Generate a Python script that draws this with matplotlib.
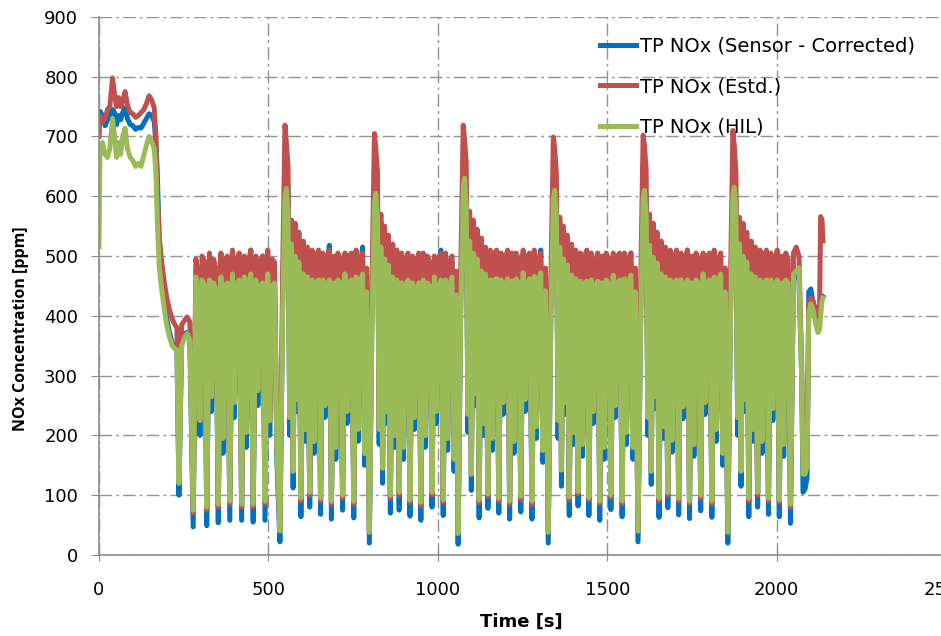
import matplotlib
matplotlib.use("Agg")
import matplotlib.pyplot as plt

plt.rcParams['font.family'] = ['DejaVu Sans']

# time axis [s]
time_s = [
    # warm start plateau and decline
    0, 3, 10, 18, 25, 32, 40, 46, 52, 58, 64, 70, 77, 84, 92, 100, 108, 116, 124, 132,
    140, 148, 156, 163, 168, 172, 178, 185, 193, 200, 208, 216, 224, 230,
    # oscillations before first spike
    236, 244, 252, 260, 268, 278, 286, 292, 298, 304, 312, 318, 326, 332, 338, 345, 352, 360, 366, 372,
    379, 386, 394, 400, 407, 414, 421, 429, 435, 441, 448, 455, 463, 469, 476, 483, 490, 498, 504, 511,
    518, 525,
    # cycle 1
    534, 542, 549, 553, 558, 563, 568, 573, 579, 585, 590, 596, 603, 609, 615, 622, 629, 635, 641, 648,
    654, 661, 667, 673, 680, 686, 693, 699, 705, 712, 719, 726, 732, 738, 745, 752, 759, 765, 771, 778,
    784, 790,
    # cycle 2
    798, 806, 813, 817, 822, 827, 832, 837, 843, 849, 854, 860, 867, 873, 879, 886, 893, 899, 905, 912,
    918, 925, 931, 937, 944, 950, 957, 963, 969, 976, 983, 990, 996, 1002, 1009, 1016, 1023, 1029, 1035, 1042,
    1048, 1054,
    # cycle 3
    1060, 1068, 1075, 1079, 1084, 1089, 1094, 1099, 1105, 1111, 1116, 1122, 1129, 1135, 1141, 1148, 1155, 1161, 1167, 1174,
    1180, 1187, 1193, 1199, 1206, 1212, 1219, 1225, 1231, 1238, 1245, 1252, 1258, 1264, 1271, 1278, 1285, 1291, 1297, 1304,
    1310, 1318,
    # cycle 4
    1326, 1334, 1341, 1345, 1350, 1355, 1360, 1365, 1371, 1377, 1382, 1388, 1395, 1401, 1407, 1414, 1421, 1427, 1433, 1440,
    1446, 1453, 1459, 1465, 1472, 1478, 1485, 1491, 1497, 1504, 1511, 1518, 1524, 1530, 1537, 1544, 1551, 1557, 1563, 1570,
    1576, 1583,
    # cycle 5
    1591, 1599, 1606, 1610, 1615, 1620, 1625, 1630, 1636, 1642, 1647, 1653, 1660, 1666, 1672, 1679, 1686, 1692, 1698, 1705,
    1711, 1718, 1724, 1730, 1737, 1743, 1750, 1756, 1762, 1769, 1776, 1783, 1789, 1795, 1802, 1809, 1816, 1822, 1828, 1835,
    1841, 1848,
    # cycle 6
    1856, 1864, 1871, 1875, 1880, 1885, 1890, 1895, 1901, 1907, 1912, 1918, 1925, 1931, 1937, 1944, 1951, 1957, 1963, 1970,
    1976, 1983, 1989, 1995, 2002, 2008, 2015, 2021, 2027, 2034, 2041,
    # end of test
    2050, 2058, 2066, 2074, 2078, 2084, 2090, 2095, 2101, 2108, 2116, 2122, 2127, 2130, 2134, 2137,
]

# TP NOx (Sensor - Corrected) [ppm]
sensor = [
    740, 742, 735, 718, 728, 735, 745, 740, 720, 735, 728, 740, 748, 730, 720, 718, 712, 715, 714, 722,
    730, 738, 735, 725, 690, 640, 520, 460, 420, 395, 372, 355, 348, 350,
    100, 355, 370, 372, 365, 47, 460, 440, 200, 470, 450, 49, 465, 240, 460, 450, 54, 470, 170, 455,
    470, 58, 480, 230, 460, 470, 58, 470, 180, 455, 510, 55, 470, 250, 455, 500, 58, 490, 200, 460,
    470, 160,
    22, 420, 630, 663, 610, 200, 560, 112, 545, 240, 520, 64, 505, 190, 495, 80, 500, 170, 485, 470,
    68, 480, 230, 470, 518, 60, 490, 160, 480, 470, 75, 500, 220, 480, 495, 62, 490, 190, 475, 515,
    150, 470,
    20, 410, 625, 655, 600, 185, 555, 120, 535, 220, 515, 70, 500, 180, 490, 75, 495, 160, 480, 500,
    65, 485, 210, 470, 490, 58, 495, 180, 475, 470, 80, 495, 220, 485, 510, 66, 485, 175, 470, 490,
    140, 465,
    18, 430, 650, 677, 615, 205, 565, 108, 545, 250, 525, 62, 505, 200, 500, 78, 490, 175, 490, 475,
    70, 480, 235, 475, 505, 60, 490, 170, 485, 470, 72, 505, 240, 480, 495, 60, 495, 195, 480, 510,
    155, 470,
    20, 415, 630, 660, 605, 195, 555, 115, 540, 235, 515, 66, 500, 185, 495, 82, 490, 165, 480, 470,
    66, 485, 220, 470, 500, 58, 490, 160, 480, 475, 76, 500, 230, 480, 490, 64, 490, 185, 475, 505,
    160, 470,
    22, 405, 610, 640, 595, 200, 560, 118, 535, 245, 520, 63, 505, 195, 495, 79, 495, 172, 485, 470,
    67, 480, 228, 475, 510, 61, 490, 165, 480, 470, 74, 500, 235, 485, 495, 63, 490, 190, 475, 500,
    150, 470,
    20, 400, 605, 630, 590, 200, 555, 115, 540, 240, 520, 64, 500, 190, 495, 80, 490, 170, 485, 470,
    68, 480, 225, 470, 505, 64, 490, 165, 480, 470, 53,
    480, 470, 460, 300, 105, 110, 130, 440, 445, 420, 405, 395, 400, 420, 430, 432,
]

# TP NOx (Estd.) [ppm]
estd = [
    700, 735, 725, 730, 745, 750, 798, 770, 750, 765, 750, 760, 775, 752, 740, 738, 732, 735, 740, 745,
    755, 768, 760, 748, 700, 600, 530, 490, 455, 430, 410, 395, 385, 380,
    130, 385, 392, 398, 390, 70, 495, 470, 225, 500, 490, 75, 505, 265, 495, 480, 80, 505, 195, 490,
    500, 85, 510, 255, 495, 505, 80, 500, 205, 490, 510, 80, 500, 275, 490, 500, 85, 510, 225, 495,
    490, 190,
    40, 470, 719, 690, 650, 230, 560, 140, 555, 260, 540, 90, 525, 210, 515, 100, 510, 190, 500, 510,
    90, 505, 250, 495, 510, 85, 500, 180, 505, 495, 95, 505, 240, 500, 505, 85, 510, 210, 495, 505,
    170, 480,
    38, 460, 705, 680, 640, 210, 570, 145, 550, 240, 535, 95, 520, 200, 510, 100, 505, 180, 495, 505,
    88, 500, 230, 490, 505, 82, 505, 200, 500, 490, 100, 500, 240, 495, 505, 88, 505, 195, 490, 500,
    160, 475,
    36, 480, 719, 695, 655, 235, 575, 135, 560, 270, 545, 88, 530, 220, 515, 98, 510, 195, 505, 510,
    90, 505, 255, 495, 510, 85, 505, 190, 505, 495, 92, 510, 260, 500, 505, 84, 510, 215, 495, 505,
    175, 480,
    38, 465, 699, 680, 640, 225, 565, 142, 550, 255, 535, 92, 520, 205, 510, 102, 505, 185, 500, 510,
    92, 505, 240, 490, 505, 86, 500, 180, 505, 495, 96, 505, 250, 500, 505, 86, 505, 205, 495, 505,
    180, 480,
    40, 460, 702, 685, 645, 230, 570, 140, 555, 265, 540, 90, 525, 215, 515, 100, 510, 192, 500, 510,
    90, 505, 248, 495, 510, 85, 500, 185, 505, 495, 95, 505, 255, 500, 505, 85, 510, 210, 495, 505,
    170, 480,
    38, 460, 710, 685, 640, 230, 565, 140, 555, 260, 540, 90, 525, 210, 515, 100, 510, 190, 500, 510,
    90, 505, 245, 495, 510, 88, 500, 185, 505, 495, 80,
    505, 515, 500, 320, 160, 155, 160, 420, 430, 425, 405, 405, 420, 566, 560, 525,
]

# TP NOx (HIL) [ppm]
hil = [
    515, 683, 690, 670, 665, 680, 730, 700, 665, 690, 670, 700, 714, 680, 665, 660, 650, 655, 650, 668,
    685, 700, 690, 680, 640, 560, 480, 445, 410, 384, 365, 350, 345, 343,
    120, 350, 362, 370, 360, 75, 465, 440, 225, 460, 450, 80, 460, 265, 455, 445, 85, 465, 195, 450,
    455, 90, 470, 255, 455, 460, 85, 465, 205, 450, 470, 85, 460, 275, 450, 455, 90, 470, 225, 450,
    455, 185,
    40, 400, 600, 613, 570, 230, 520, 140, 500, 260, 490, 95, 470, 210, 465, 105, 460, 190, 455, 460,
    95, 460, 250, 450, 460, 90, 455, 180, 460, 455, 100, 470, 240, 455, 460, 90, 465, 210, 455, 470,
    170, 440,
    38, 395, 590, 605, 565, 210, 515, 145, 495, 240, 485, 100, 465, 200, 460, 105, 455, 180, 450, 460,
    92, 455, 230, 445, 455, 88, 460, 200, 455, 450, 105, 465, 240, 450, 460, 92, 460, 195, 450, 465,
    160, 435,
    36, 410, 615, 630, 580, 235, 525, 135, 505, 270, 495, 92, 475, 220, 470, 102, 460, 195, 460, 462,
    95, 460, 255, 450, 462, 90, 458, 190, 462, 455, 98, 472, 260, 455, 462, 90, 466, 215, 455, 472,
    175, 442,
    38, 398, 595, 610, 565, 225, 515, 142, 495, 255, 485, 97, 468, 205, 462, 106, 458, 185, 455, 458,
    96, 460, 240, 448, 458, 90, 455, 180, 460, 455, 100, 468, 250, 455, 460, 90, 462, 205, 455, 468,
    180, 440,
    40, 395, 595, 610, 568, 230, 518, 140, 498, 265, 488, 95, 470, 215, 465, 104, 460, 192, 455, 460,
    95, 460, 248, 450, 460, 90, 455, 185, 460, 455, 100, 470, 255, 455, 460, 90, 465, 210, 455, 470,
    170, 440,
    38, 395, 600, 615, 570, 230, 520, 140, 500, 260, 490, 95, 470, 210, 465, 105, 460, 190, 455, 460,
    95, 460, 245, 450, 460, 92, 455, 185, 460, 455, 85,
    470, 475, 480, 300, 135, 135, 150, 405, 420, 410, 385, 372, 378, 400, 425, 430,
]

labels = ['TP NOx (Sensor - Corrected)', 'TP NOx (Estd.)', 'TP NOx (HIL)']
colors = ['#0070C0', '#C0504D', '#9BBB59']

fig = plt.figure(figsize=(9.41, 6.36), dpi=100)
# axes runs a little past the right edge, like the cropped original
ax = fig.add_axes([0.1052, 0.1274, 0.9001, 0.846])

for y, lab, c in zip([sensor, estd, hil], labels, colors):
    ax.plot(time_s, y, color=c, lw=3.6, label=lab, solid_joinstyle='round')

ax.set_xlim(0, 2500)
ax.set_ylim(0, 900)
ax.set_xticks(range(0, 2501, 500))
ax.set_yticks(range(0, 901, 100))

ax.grid(True, color='#939393', lw=1.0, linestyle=(0, (9, 3, 2, 3)))
ax.set_axisbelow(True)

for s in ['top', 'right']:
    ax.spines[s].set_visible(False)
for s in ['left', 'bottom']:
    ax.spines[s].set_color('#8c8c8c')
    ax.spines[s].set_linewidth(1.2)

ax.tick_params(axis='x', direction='inout', length=9, color='#8c8c8c', labelsize=13, pad=14)
ax.tick_params(axis='y', direction='out', length=6, color='#8c8c8c', labelsize=13, pad=9)

ax.set_xlabel('Time [s]', fontsize=13, fontweight='bold', va='center')
ax.xaxis.set_label_coords(0.499, -0.1245)
ax.set_ylabel('NOx Concentration [ppm]', fontsize=11.5, fontweight='bold',
              family=['Open Sans', 'DejaVu Sans'], va='center')
ax.yaxis.set_label_coords(-0.092, 0.42)

ax.legend(loc='upper left', bbox_to_anchor=(0.6376, 0.942), bbox_transform=fig.transFigure,
          frameon=False, fontsize=14, handlelength=1.85, handletextpad=0.2,
          labelspacing=1.1, borderpad=0, borderaxespad=0)

fig.savefig('out.png', dpi=100)
